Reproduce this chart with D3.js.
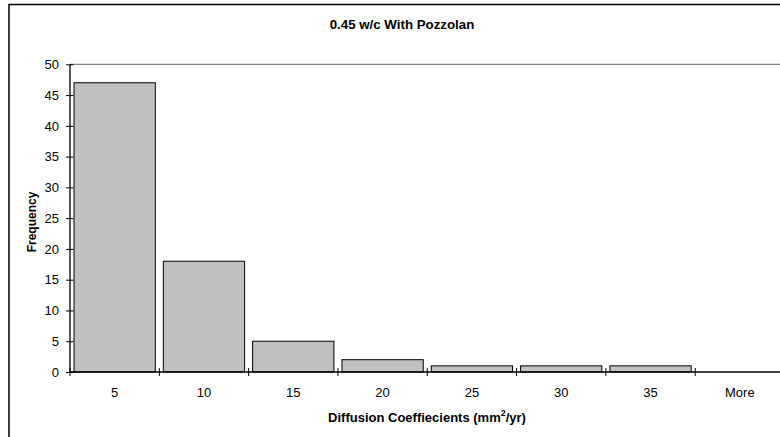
<!DOCTYPE html>
<html><head><meta charset="utf-8">
<script src="https://cdn.jsdelivr.net/npm/d3@7"></script>
<style>body{margin:0;background:#fff}svg{display:block}text{font-family:"Liberation Sans",Arial,sans-serif}</style>
</head><body>
<script>
const categories = ["5","10","15","20","25","30","35","More"];
const frequency = [47,18,5,2,1,1,1,0];
const yTicks = [0,5,10,15,20,25,30,35,40,45,50];

const W=780,H=437;
const svg=d3.select("body").append("svg").attr("width",W).attr("height",H);
svg.append("rect").attr("width",W).attr("height",H).attr("fill","#fff");
// outer chart border
svg.append("rect").attr("x",9).attr("y",4.5).attr("width",W+20).attr("height",H+20)
  .attr("fill","none").attr("stroke","#000").attr("stroke-width",1.5);

const L=70,R=784.5,T=64.3,B=372;
const x=d3.scaleBand().domain(categories).range([L,R]).paddingInner(0.09).paddingOuter(0.045);
const y=d3.scaleLinear().domain([0,50]).range([B,T]);

// top gridline
svg.append("line").attr("x1",L).attr("x2",W).attr("y1",y(50)).attr("y2",y(50))
  .attr("stroke","#808080").attr("stroke-width",1.2);

svg.selectAll(".bar").data(frequency).enter().append("rect")
  .attr("x",(d,i)=>x(categories[i])).attr("width",x.bandwidth())
  .attr("y",d=>y(d)).attr("height",d=>B-y(d))
  .attr("fill","#c0c0c0").attr("stroke","#000").attr("stroke-width",1);

// y axis
const ya=svg.append("g").attr("transform",`translate(${L},0)`)
  .call(d3.axisLeft(y).tickValues(yTicks).tickSize(4).tickPadding(7));
ya.select(".domain").attr("d",`M0,${B}V${T}`).attr("stroke","#000").attr("stroke-width",1.3);
ya.selectAll(".tick line").attr("x1",-4).attr("x2",3.5).attr("stroke","#000");
ya.selectAll("text").attr("font-size",13).attr("fill","#000").attr("font-family","Liberation Sans, Arial, sans-serif");

// x axis
const xb=d3.scaleLinear().domain([0,categories.length]).range([L,R]);
svg.append("line").attr("x1",L).attr("x2",W).attr("y1",B).attr("y2",B).attr("stroke","#000").attr("stroke-width",1.3);
svg.selectAll(".xt").data(d3.range(categories.length+1)).enter().append("line")
  .attr("x1",d=>xb(d)).attr("x2",d=>xb(d)).attr("y1",B-4).attr("y2",B+4).attr("stroke","#000");
svg.selectAll(".xl").data(categories).enter().append("text")
  .attr("x",d=>x(d)+x.bandwidth()/2).attr("y",397).attr("text-anchor","middle")
  .attr("font-size",13).text(d=>d);

svg.append("text").attr("x",402).attr("y",29).attr("text-anchor","middle")
  .attr("font-size",13.3).attr("font-weight","bold").text("0.45 w/c With Pozzolan");

const xt=svg.append("text").attr("x",427).attr("y",421.5).attr("text-anchor","middle")
  .attr("font-size",13).attr("font-weight","bold");
xt.append("tspan").text("Diffusion Coeffiecients (mm");
xt.append("tspan").attr("dy",-6).attr("font-size",9).text("2");
xt.append("tspan").attr("dy",6).text("/yr)");

svg.append("text").attr("transform","translate(35.5,222) rotate(-90)").attr("text-anchor","middle")
  .attr("font-size",12).attr("font-weight","bold").text("Frequency");
</script>
</body></html>
